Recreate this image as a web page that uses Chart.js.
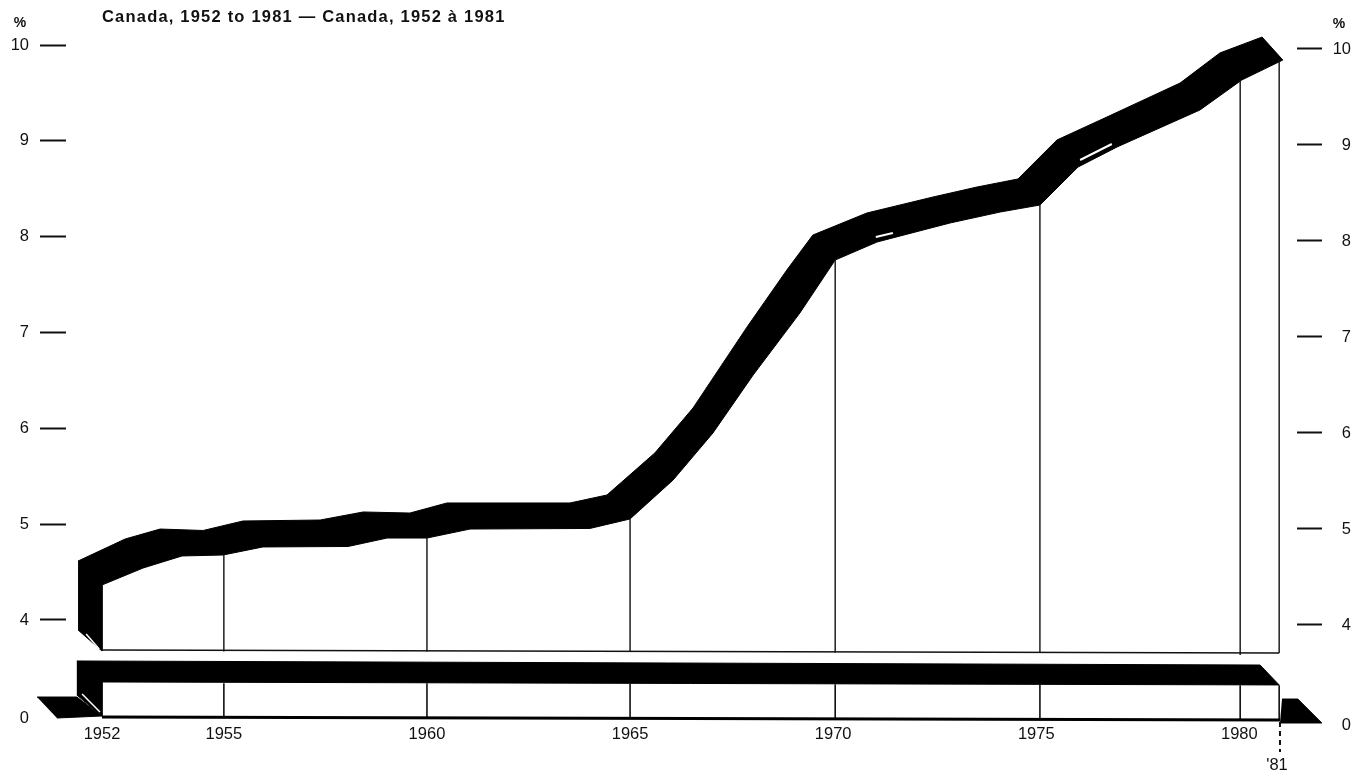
<!DOCTYPE html>
<html>
<head>
<meta charset="utf-8">
<style>html,body{margin:0;padding:0;background:#fff}canvas{display:block}</style>
<script src="https://cdn.jsdelivr.net/npm/chart.js@4/dist/chart.umd.js"></script>
</head>
<body>
<canvas id="c" width="1371" height="775"></canvas>
<script>
const titleText = "Canada, 1952 to 1981 — Canada, 1952 à 1981";
const percentLabel = "%";
const lastYearLabel = "'81";
const xTickValues = [1952, 1955, 1960, 1965, 1970, 1975, 1980, 1981];
const yTickValues = [10, 9, 8, 7, 6, 5, 4];
const brokenZeroLeft = 2.977;
const brokenZeroRight = 2.958;

// ribbon: rear (upper) edge
const rearYears = [1951.41,1952.57,1953.43,1954.49,1955.47,1957.37,1958.43,1959.58,1960.49,1963.52,1964.43,1965.61,1966.55,1967.88,1968.86,1969.50,1970.83,1972.46,1973.54,1974.55,1975.51,1976.74,1978.54,1979.52,1980.56,1981.07];
const rearValues = [4.615,4.845,4.949,4.934,5.033,5.043,5.127,5.116,5.221,5.221,5.304,5.743,6.212,7.057,7.652,8.017,8.247,8.414,8.518,8.602,9.009,9.249,9.603,9.917,10.083,9.843];
// ribbon: front (lower) edge
const frontYears = [1952,1953.01,1953.97,1954.98,1955.96,1958.06,1959.02,1960,1961.06,1964.01,1965,1966.06,1967.04,1968.03,1969.18,1970.05,1971.08,1972.88,1974.11,1975.09,1976.03,1976.99,1979.03,1980.06,1981.07];
const frontValues = [4.365,4.542,4.668,4.678,4.762,4.767,4.855,4.855,4.949,4.955,5.054,5.461,5.951,6.556,7.203,7.756,7.944,8.143,8.257,8.33,8.727,8.936,9.322,9.635,9.843];
// ribbon left wall
const wallYears = [1952,1951.41];
const wallValues = [3.676,3.896];

// lower band
const bandYears = [1951.38,1980.51,1980.98,1952,1952,1951.38];
const bandValues = [3.572,3.53,3.322,3.353,2.998,3.217];
const shadowLeftYears = [1950.4,1951.38,1952,1950.89];
const shadowLeftValues = [3.196,3.196,2.998,2.977];
const shadowRightYears = [1981.05,1981.44,1982.03,1981];
const shadowRightValues = [3.175,3.175,2.925,2.925];

// drop lines
const dropYears = [1955,1960,1965,1970.05,1975.09,1980.02,1980.98];
const dropTops = [4.678,4.855,5.054,7.756,8.33,9.635,9.843];
const dropBottoms = [3.67,3.67,3.665,3.66,3.66,3.635,3.656];
const bandDropYears = [1955,1960,1965,1970.05,1975.09,1980.02,1980.98];
const bandDropTops = [3.34,3.34,3.34,3.33,3.33,3.32,3.32];
const bandDropBottoms = [2.98,2.98,2.97,2.97,2.96,2.96,2.96];
const floorYears = [1952,1980.98];
const floorValues = [3.687,3.656];
const baseYears = [1952,1981];
const baseValues = [2.988,2.957];
const dashYears = [1981,1981];
const dashValues = [2.935,2.622];

// white slivers in the black ribbon
const sliverA = {x:[1971.05,1971.47], y:[7.996,8.038]};
const sliverB = {x:[1976.08,1976.86], y:[8.8,8.967]};
const sliverC = {x:[1951.61,1951.93], y:[3.854,3.697]};
const sliverD = {x:[1951.51,1951.95], y:[3.228,3.04]};

const pts = (xs, ys) => xs.map((x, i) => ({x, y: ys[i]}));
const BLACK = '#000';
const shape = (data) => ({data, shape:true, borderColor:BLACK, borderWidth:1, pointRadius:0, clip:false, tension:0, fill:false});
const rule = (data, width, color, dash) => ({data, borderColor:color||'#111', borderWidth:width, borderDash:dash||[], pointRadius:0, clip:false, fill:false, tension:0});

const ribbon = pts(rearYears, rearValues)
  .concat(pts(frontYears, frontValues).reverse())
  .concat(pts(wallYears, wallValues));

const datasets = [
  rule(pts(sliverA.x, sliverA.y), 2, '#fff'),
  rule(pts(sliverB.x, sliverB.y), 2, '#fff'),
  rule(pts(sliverC.x, sliverC.y), 1.5, '#fff'),
  rule(pts(sliverD.x, sliverD.y), 1.5, '#fff'),
  rule(pts(dashYears, dashValues), 2, '#111', [5,4]),
  rule(pts(baseYears, baseValues), 3, BLACK),
  rule(pts(floorYears, floorValues), 1.5, '#111'),
  ...dropYears.map((yr, i) => rule([{x:yr, y:dropTops[i]}, {x:yr, y:dropBottoms[i]}], 1.4)),
  ...bandDropYears.map((yr, i) => rule([{x:yr, y:bandDropTops[i]}, {x:yr, y:bandDropBottoms[i]}], 1.6)),
  shape(pts(shadowRightYears, shadowRightValues)),
  shape(pts(shadowLeftYears, shadowLeftValues)),
  shape(pts(bandYears, bandValues)),
  shape(ribbon)
];

const polygonFill = {
  id:'polygonFill',
  beforeDatasetsDraw(chart){
    const ctx = chart.ctx;
    chart.data.datasets.forEach((ds, i) => {
      if(!ds.shape) return;
      const p = chart.getDatasetMeta(i).data;
      ctx.save();
      ctx.beginPath();
      p.forEach((el, k) => k ? ctx.lineTo(el.x, el.y) : ctx.moveTo(el.x, el.y));
      ctx.closePath();
      ctx.fillStyle = BLACK;
      ctx.fill();
      ctx.restore();
    });
  }
};
const captions = {
  id:'captions',
  afterDraw(chart){
    const ctx = chart.ctx, sx = chart.scales.x;
    ctx.save();
    ctx.fillStyle = '#111';
    ctx.textBaseline = 'middle';
    ctx.textAlign = 'left';
    ctx.font = 'bold 16.5px "Liberation Sans"';
    ctx.letterSpacing = '1.2px';
    ctx.fillText(titleText, 102, 17);
    ctx.letterSpacing = '0px';
    ctx.font = 'bold 14px "Liberation Sans"';
    ctx.textAlign = 'center';
    ctx.fillText(percentLabel, 20, 23);
    ctx.fillText(percentLabel, 1339, 24);
    ctx.font = '16.5px "Liberation Sans"';
    ctx.fillText(lastYearLabel, sx.getPixelForValue(1981) - 3, 765);
    ctx.restore();
  }
};
const tickFont = {family:'"Liberation Sans"', size:16.5};
const tickColor = (zero) => (c) => c.tick && c.tick.value === zero ? 'rgba(0,0,0,0)' : '#111';

new Chart(document.getElementById('c'), {
  type:'line',
  data:{datasets},
  plugins:[polygonFill, captions],
  options:{
    responsive:false,
    animation:false,
    events:[],
    layout:{padding:{right:20}, autoPadding:false},
    plugins:{legend:{display:false}, tooltip:{enabled:false}, title:{display:false}},
    scales:{
      x:{
        type:'linear', position:'bottom',
        min:1951.1137, max:1981.419,
        grid:{display:false, drawTicks:false}, border:{display:false},
        afterBuildTicks(a){a.ticks = xTickValues.map(value => ({value}));},
        afterFit(a){a.height = 48;},
        ticks:{autoSkip:false, maxRotation:0, minRotation:0, padding:-2, color:'#111', font:tickFont,
          callback:v => v === 1981 ? '' : String(v)}
      },
      y:{
        type:'linear', position:'left',
        min:2.8832, max:10.2515,
        grid:{drawOnChartArea:false, tickLength:26, tickWidth:2, tickColor:tickColor(brokenZeroLeft)}, border:{display:false},
        afterBuildTicks(a){a.ticks = yTickValues.concat([brokenZeroLeft]).map(value => ({value}));},
        afterFit(a){a.width = 66;},
        ticks:{autoSkip:false, padding:11, color:'#111', font:tickFont,
          callback:v => v === brokenZeroLeft ? '0' : String(v)}
      },
      y2:{
        type:'linear', position:'right',
        min:2.9375, max:10.2927,
        grid:{drawOnChartArea:false, tickLength:25, tickWidth:2, tickColor:tickColor(brokenZeroRight)}, border:{display:false},
        afterBuildTicks(a){a.ticks = yTickValues.map(v => ({value:v})).concat([{value:brokenZeroRight}]);},
        afterFit(a){a.width = 54;},
        ticks:{autoSkip:false, padding:10, crossAlign:'far', color:'#111', font:tickFont,
          callback:v => v === brokenZeroRight ? '0' : String(v)}
      }
    }
  }
});
</script>
</body>
</html>
